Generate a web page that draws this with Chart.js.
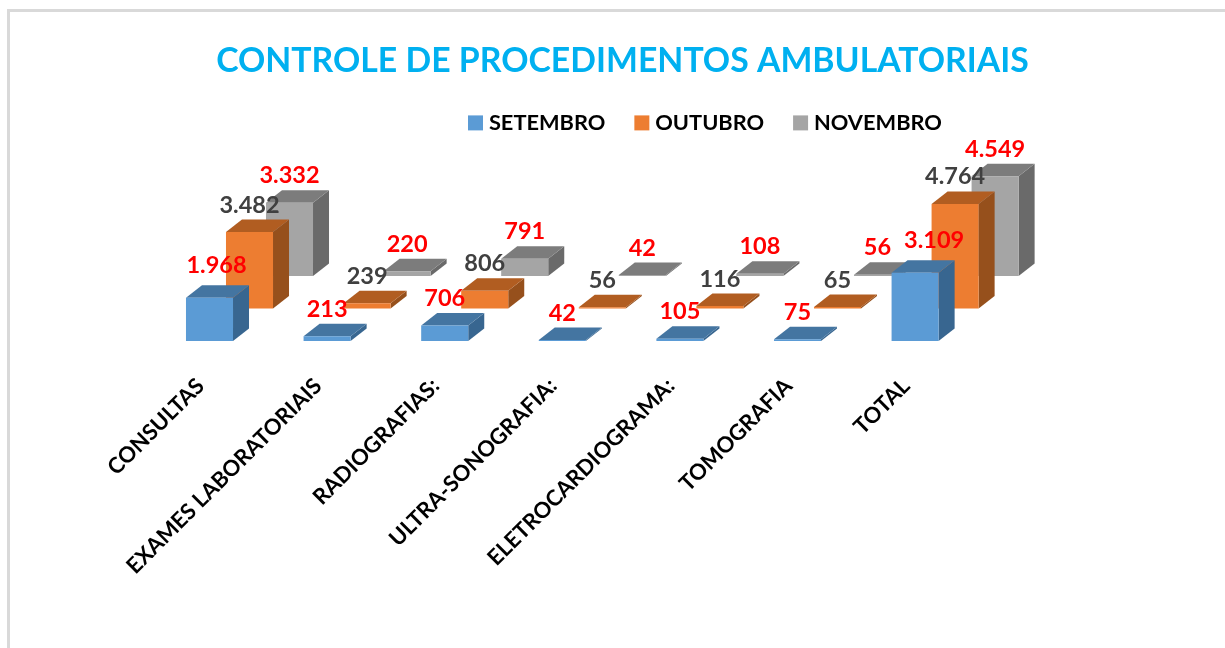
<!DOCTYPE html>
<html><head><meta charset="utf-8">
<script src="https://cdn.jsdelivr.net/npm/chart.js@4/dist/chart.umd.js"></script>
<style>
html,body{margin:0;padding:0;background:#fff;overflow:hidden}
#frame{position:absolute;left:7px;top:9px;width:1300px;height:700px;border-left:3px solid #d9d9d9;border-top:3px solid #d9d9d9}
canvas{position:absolute;left:0;top:0}
</style></head><body>
<div id="frame"></div>
<canvas id="c" width="1225" height="648"></canvas>
<script>
const categories = ["CONSULTAS","EXAMES LABORATORIAIS","RADIOGRAFIAS:","ULTRA-SONOGRAFIA:","ELETROCARDIOGRAMA:","TOMOGRAFIA","TOTAL"];
const setembro = [1968,213,706,42,105,75,3109];
const outubro  = [3482,239,806,56,116,65,4764];
const novembro = [3332,220,791,42,108,56,4549];
const seriesNames = ["SETEMBRO","OUTUBRO","NOVEMBRO"];
const FONT = "Lato, 'Open Sans', sans-serif";

class Bar3D extends Chart.BarController {
  draw() {
    const ctx = this.chart.ctx, ds = this.getDataset(), row = this.index;
    const depth = this.chart.options.plugins.depth3d;
    ctx.save();
    ctx.translate(row * depth.rowDx, row * depth.rowDy);
    for (const el of this._cachedMeta.data) {
      const {x, y, base, width} = el.getProps(['x','y','base','width'], true);
      const l = x - width / 2, r = x + width / 2;
      ctx.fillStyle = ds.sideColor;
      ctx.beginPath();
      ctx.moveTo(r, y); ctx.lineTo(r + depth.dx, y + depth.dy);
      ctx.lineTo(r + depth.dx, base + depth.dy); ctx.lineTo(r, base);
      ctx.closePath(); ctx.fill();
      ctx.fillStyle = ds.topColor;
      ctx.beginPath();
      ctx.moveTo(l, y); ctx.lineTo(l + depth.dx, y + depth.dy);
      ctx.lineTo(r + depth.dx, y + depth.dy); ctx.lineTo(r, y);
      ctx.closePath(); ctx.fill();
    }
    super.draw();
    ctx.restore();
  }
}
Bar3D.id = 'bar3d';
Bar3D.defaults = Chart.BarController.defaults;
Bar3D.overrides = Chart.BarController.overrides;
Chart.register(Bar3D);

const valueLabels = {
  id: 'valueLabels',
  afterDatasetsDraw(chart, args, opts) {
    const ctx = chart.ctx, depth = chart.options.plugins.depth3d;
    ctx.save();
    ctx.font = opts.font; ctx.textAlign = 'center'; ctx.textBaseline = 'middle';
    chart.data.datasets.forEach((ds, row) => {
      const meta = chart.getDatasetMeta(row);
      ctx.fillStyle = ds.labelColor;
      meta.data.forEach((el, i) => {
        const shift = (opts.shift[row] || {})[i] || [0, 0];
        const text = ds.data[i].toLocaleString('pt-BR');
        ctx.fillText(text, el.x + row * depth.rowDx + shift[0], el.y + row * depth.rowDy + opts.gap + shift[1]);
      });
    });
    ctx.restore();
  }
};

const placeBlocks = {
  id: 'placeBlocks',
  beforeDraw(chart, args, opts) {
    const t = chart.titleBlock, l = chart.legend;
    t.left = opts.titleLeft; t.right = opts.titleRight; t.top = opts.titleTop;
    const p = chart.options.plugins.legend.labels.padding;
    l.left = opts.legendX - p; l.right = l.left + 700;
    l.top = opts.legendY - p; l.bottom = l.top + 100;
  }
};

new Chart(document.getElementById('c'), {
  type: 'bar3d',
  data: {
    labels: categories,
    datasets: [
      {label: seriesNames[0], data: setembro, backgroundColor:'#5b9bd5', sideColor:'#386690', topColor:'#4475a1', labelColor:'#ff0000'},
      {label: seriesNames[1], data: outubro,  backgroundColor:'#ed7d31', sideColor:'#96501c', topColor:'#b15d21', labelColor:'#404040'},
      {label: seriesNames[2], data: novembro, backgroundColor:'#a5a5a5', sideColor:'#6a6a6a', topColor:'#7c7c7c', labelColor:'#ff0000'}
    ]
  },
  plugins: [valueLabels, placeBlocks],
  options: {
    responsive: false,
    animation: false,
    clip: false,
    layout: {padding: {left: 150.7, right: 251.1, top: 0, bottom: 0}},
    datasets: {bar3d: {grouped:false, barPercentage:0.4, categoryPercentage:1, clip:false}},
    scales: {
      x: {
        type:'category', offset:true,
        grid:{display:false}, border:{display:false},
        afterFit(s){ s.height = 307; },
        ticks:{minRotation:45, maxRotation:45, autoSkip:false, padding:24, labelOffset:-9, color:'#000', font:{family:FONT, weight:'bold', size:22}}
      },
      y: {display:false, min:0, max:8000}
    },
    plugins: {
      depth3d: {dx:16, dy:-12.5, rowDx:40, rowDy:-32.5},
      placeBlocks: {titleLeft:0, titleRight:1245, titleTop:40.6, legendX:473, legendY:112},
      valueLabels: {font:"bold 23.5px "+FONT, gap:-27, shift:{0:{0:[7,-5],6:[19,-5]}}},
      tooltip:{enabled:false},
      title: {display:true, text:'CONTROLE DE PROCEDIMENTOS AMBULATORIAIS', color:'#00b0f0',
        font:{family:FONT, weight:'bold', size:33.8}, padding:{top:0, bottom:59}},
      legend: {position:'top', align:'start',
        labels:{usePointStyle:true, pointStyle:'rect', boxWidth:5, boxHeight:15, padding:34, color:'#000',
          font:{family:FONT, weight:'bold', size:21.8}}}
    }
  }
});
</script>
</body></html>
